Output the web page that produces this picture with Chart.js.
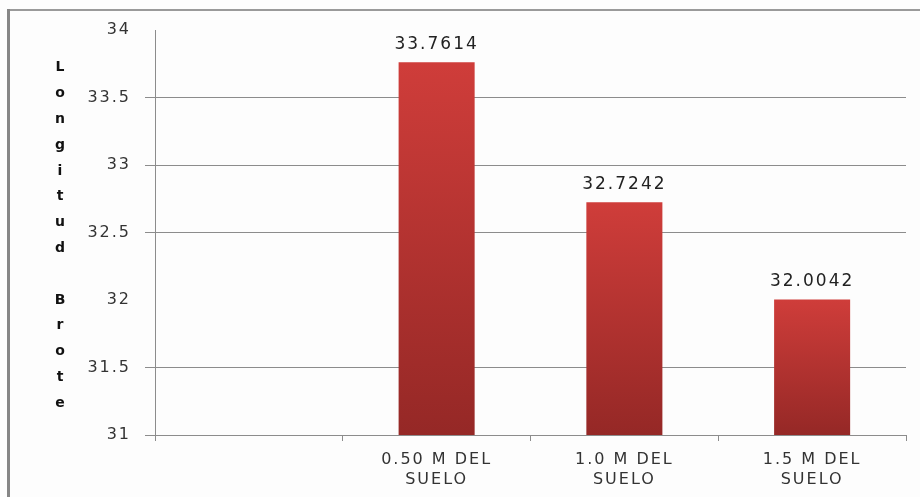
<!DOCTYPE html>
<html>
<head>
<meta charset="utf-8">
<script src="https://cdn.jsdelivr.net/npm/chart.js@4"></script>
<style>
  html, body { margin: 0; padding: 0; background: #fdfdfd; overflow: hidden; }
  #wrap { position: relative; width: 920px; height: 497px; }
</style>
</head>
<body>
<div id="wrap"><canvas id="brote"></canvas></div>
<script>
// --- data ---
const categories = ['', ['0.50 M DEL', 'SUELO'], ['1.0 M DEL', 'SUELO'], ['1.5 M DEL', 'SUELO']];
const longitudBrote = [null, 33.7614, 32.7242, 32.0042];
const yMin = 31;
const yMax = 34;
const yStep = 0.5;
const yTitle = 'Longitud Brote';

const FONT = '"DejaVu Sans", sans-serif';
const AXIS_GRAY = '#8c8c8c';

// background, frame and canvas text spacing
const framePlugin = {
    id: 'frame',
    beforeDraw(chart) {
        const ctx = chart.ctx;
        ctx.letterSpacing = '2px';
        ctx.save();
        ctx.fillStyle = '#fdfdfd';
        ctx.fillRect(0, 0, chart.width, chart.height);
        ctx.fillStyle = '#9a9a9a';
        ctx.fillRect(7, 9, chart.width - 7, 2);
        ctx.fillStyle = '#868686';
        ctx.fillRect(7, 9, 3, chart.height - 9);
        ctx.restore();
    }
};

// stacked letters for the y axis title
const stackedTitle = {
    id: 'stackedTitle',
    afterDraw(chart) {
        const { ctx, chartArea } = chart;
        const chars = yTitle.split('');
        const step = 25.8;
        const mid = (chartArea.top + chartArea.bottom) / 2 + 3;
        const start = mid - step * (chars.length - 1) / 2;
        ctx.save();
        ctx.letterSpacing = '0px';
        ctx.font = 'bold 14px ' + FONT;
        ctx.fillStyle = '#111';
        ctx.textAlign = 'center';
        ctx.textBaseline = 'middle';
        chars.forEach((c, i) => ctx.fillText(c, 60, start + i * step));
        ctx.restore();
    }
};

// value above each bar
const valueLabels = {
    id: 'valueLabels',
    afterDatasetsDraw(chart) {
        const ctx = chart.ctx;
        const meta = chart.getDatasetMeta(0);
        ctx.save();
        ctx.letterSpacing = '2px';
        ctx.font = '17px ' + FONT;
        ctx.fillStyle = '#222';
        ctx.textAlign = 'center';
        ctx.textBaseline = 'alphabetic';
        meta.data.forEach((bar, i) => {
            const v = longitudBrote[i];
            if (v == null) return;
            ctx.fillText(String(v), bar.x, bar.y - 13);
        });
        ctx.restore();
    }
};

// the 32 and 34 lines are not drawn on this chart
const hiddenGrid = [32, 34];

new Chart(document.getElementById('brote'), {
    type: 'bar',
    data: {
        labels: categories,
        datasets: [{
            data: longitudBrote,
            backgroundColor: (c) => {
                const chart = c.chart;
                const y = chart.scales.y;
                if (!chart.chartArea || !y || c.raw == null) return '#c0392f';
                const top = y.getPixelForValue(c.raw);
                const bottom = y.getPixelForValue(yMin);
                const g = chart.ctx.createLinearGradient(0, top, 0, bottom);
                g.addColorStop(0, '#cf3d3a');
                g.addColorStop(1, '#952826');
                return g;
            },
            borderWidth: 0,
            categoryPercentage: 1,
            barPercentage: 0.405
        }]
    },
    options: {
        responsive: true,
        maintainAspectRatio: false,
        animation: false,
        layout: { padding: { left: 0, top: 30, right: 14, bottom: 0 } },
        plugins: {
            legend: { display: false },
            tooltip: { enabled: false }
        },
        scales: {
            x: {
                afterFit: (s) => { s.height = 62; },
                grid: {
                    drawOnChartArea: false,
                    tickLength: 6,
                    color: AXIS_GRAY,
                    offset: true
                },
                border: { color: AXIS_GRAY },
                ticks: {
                    font: { family: FONT, size: 16, lineHeight: 1.3 },
                    color: '#333',
                    padding: 8,
                    maxRotation: 0
                }
            },
            y: {
                min: yMin,
                max: yMax,
                afterFit: (s) => { s.width = 155; },
                grid: {
                    tickLength: 10,
                    color: (c) => (c.tick && hiddenGrid.includes(c.tick.value)) ? 'rgba(0,0,0,0)' : AXIS_GRAY
                },
                border: { color: AXIS_GRAY },
                ticks: {
                    stepSize: yStep,
                    callback: (v) => String(v),
                    font: { family: FONT, size: 16 },
                    color: '#333',
                    padding: 14
                }
            }
        }
    },
    plugins: [framePlugin, stackedTitle, valueLabels]
});
</script>
</body>
</html>
